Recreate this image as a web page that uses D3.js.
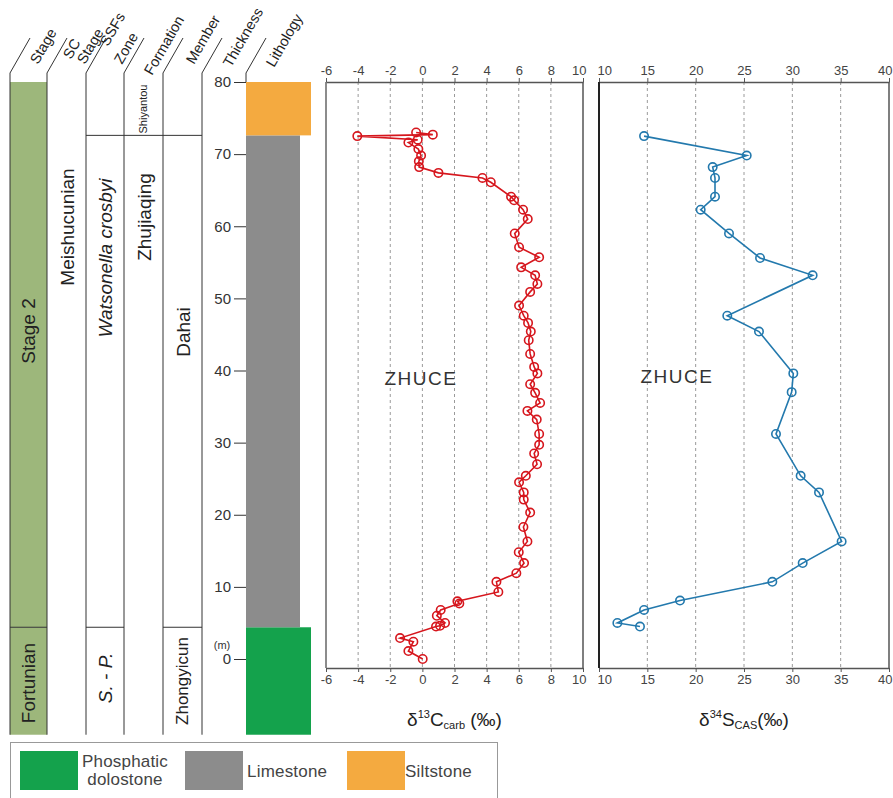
<!DOCTYPE html>
<html>
<head>
<meta charset="utf-8">
<title>Zhuce section</title>
<script src="https://d3js.org/d3.v7.min.js"></script>
<style>
  body { margin: 0; background: #fff; }
  text { font-family: "Liberation Sans", Arial, sans-serif; }
</style>
</head>
<body>
<div id="chart"></div>
<script>
// ---- data ----
var carbDepth = [73.0, 72.7, 72.5, 72.0, 71.6, 70.7, 69.8, 69.0, 68.2, 67.4, 66.7, 66.1, 64.1, 63.6, 62.3, 61.0, 59.0, 57.1,
  55.7, 54.3, 53.2, 52.0, 50.9, 49.0, 47.6, 46.6, 45.4, 44.2, 42.3, 40.5, 39.6, 38.1, 36.9, 35.5, 34.4, 33.2, 31.2, 29.7, 28.5,
  27.0, 25.4, 24.5, 23.1, 22.1, 20.3, 18.3, 16.3, 14.8, 13.3, 11.9, 10.7, 9.3, 8.0, 7.7, 6.8, 6.0, 5.0, 4.6, 4.5, 2.9, 2.4, 1.1, 0.0];
var carbValue = [-0.39, 0.65, -4.05, -0.29, -0.87, -0.25, -0.08, -0.22, -0.2, 1.0, 3.74, 4.26, 5.52, 5.71, 6.27, 6.56, 5.75, 6.02,
  7.27, 6.15, 7.02, 7.16, 6.71, 6.02, 6.31, 6.58, 6.75, 6.62, 6.71, 6.96, 7.16, 6.71, 7.02, 7.33, 6.54, 7.12, 7.27, 7.27, 6.96,
  7.14, 6.44, 6.02, 6.31, 6.31, 6.71, 6.29, 6.54, 6.0, 6.33, 5.85, 4.61, 4.73, 2.18, 2.3, 1.14, 0.9, 1.41, 1.1, 0.85, -1.39, -0.56, -0.87, 0.02];

var sulfDepth = [72.5, 69.8, 68.2, 66.7, 64.1, 62.3, 59.0, 55.6, 53.2, 47.6, 45.4, 39.6, 37.0, 31.2, 25.4, 23.1, 16.3, 13.3, 10.7, 8.1, 6.8, 5.0, 4.5];
var sulfValue = [14.66, 25.28, 21.76, 22.0, 22.0, 20.52, 23.45, 26.66, 32.1, 23.27, 26.55, 30.1, 29.93, 28.31, 30.86, 32.76, 35.1, 31.07, 27.93, 18.38, 14.66, 11.9, 14.24];

var carbTicks = [-6, -4, -2, 0, 2, 4, 6, 8, 10];
var sulfTicks = [10, 15, 20, 25, 30, 35, 40];
var depthTicks = [0, 10, 20, 30, 40, 50, 60, 70, 80];

var headerNames = [["Stage"], ["SC", "Stage"], ["SSFs", "Zone"], ["Formation"], ["Member"], ["Thickness"], ["Lithology"]];

var lithNames = ["Phosphatic dolostone", "Limestone", "Siltstone"];
var lithBase = [-10.5, 4.4, 72.6];
var lithTop = [4.4, 72.6, 80];

var stageNames = ["Fortunian", "Stage 2"];
var stageBase = [-10.5, 4.4];
var stageTop = [4.4, 80];

// ---- layout ----
var W = 893, H = 798;
var svg = d3.select("#chart").append("svg").attr("width", W).attr("height", H);

var y = d3.scaleLinear().domain([0, 80]).range([659, 82]);
var plotBottom = 668, plotTop = y(80);
var colX = [10, 47, 86, 124, 163, 202, 246];
var headTop = 38, headBase = 73;

var lithColor = {"Phosphatic dolostone": "#14a24c", "Limestone": "#8c8c8c", "Siltstone": "#f4aa40"};
var lithWidth = {"Phosphatic dolostone": 65, "Limestone": 54, "Siltstone": 65};
var stageFill = "#9db77b";

// stage column
svg.selectAll("rect.stage").data(stageNames).enter().append("rect")
  .attr("x", colX[0]).attr("width", colX[1] - colX[0])
  .attr("y", function(d, i) { return y(stageTop[i]); })
  .attr("height", function(d, i) { return y(stageBase[i]) - y(stageTop[i]); })
  .attr("fill", stageFill);

// lithology
svg.selectAll("rect.lith").data(lithNames).enter().append("rect")
  .attr("x", colX[6])
  .attr("width", function(d) { return lithWidth[d]; })
  .attr("y", function(d, i) { return y(lithTop[i]); })
  .attr("height", function(d, i) { return y(lithBase[i]) - y(lithTop[i]); })
  .attr("fill", function(d) { return lithColor[d]; });

// column lines + slanted header lines
var g = svg.append("g").attr("stroke", "#333").attr("stroke-width", 1).attr("fill", "none");
colX.forEach(function(x, i) {
  g.append("line").attr("x1", x).attr("x2", x + 20).attr("y1", headBase).attr("y2", headTop);
  g.append("line").attr("x1", x).attr("x2", x).attr("y1", headBase)
    .attr("y2", i < 6 ? y(-10.5) : plotTop);
});
// unit boundaries
function hline(x1, x2, d) {
  g.append("line").attr("x1", x1).attr("x2", x2).attr("y1", y(d)).attr("y2", y(d));
}
hline(colX[0], colX[1], 4.4);
hline(colX[2], colX[3], 4.4);
hline(colX[4], colX[5], 4.4);
hline(colX[2], colX[5], 72.6);

// header labels
var headPos = [
  [[38, 65]], [[71, 60], [85, 65]], [[108, 47], [122, 65]],
  [[152, 76]], [[194, 65]], [[231, 68]], [[274, 68]]
];
headerNames.forEach(function(lines, i) {
  lines.forEach(function(t, j) {
    var p = headPos[i][j];
    svg.append("text").attr("transform", "translate(" + p[0] + "," + p[1] + ") rotate(-60)")
      .attr("font-size", 14.5).attr("fill", "#222").text(t);
  });
});

// rotated unit names
function vtext(t, x, cy, size, italic) {
  svg.append("text").attr("transform", "translate(" + x + "," + cy + ") rotate(-90)")
    .attr("text-anchor", "middle").attr("dy", "0.35em")
    .attr("font-size", size).attr("fill", "#222")
    .attr("font-style", italic ? "italic" : "normal").text(t);
}
vtext("Stage 2", 28, 331, 19);
vtext("Fortunian", 28, 683, 19);
vtext("Meishucunian", 67, 227, 19);
vtext("Watsonella crosbyi", 105, 258, 19, true);
vtext("S. - P.", 105, 678, 19, true);
vtext("Zhujiaqing", 144, 217, 19);
vtext("Shiyantou", 143, 109, 11);
vtext("Dahai", 183, 332, 19);
vtext("Zhongyicun", 182, 681, 17);

// thickness scale
var ta = svg.append("g").attr("transform", "translate(" + colX[6] + ",0)")
  .call(d3.axisLeft(y).tickValues(depthTicks).tickSize(12).tickPadding(3));
ta.select(".domain").remove();
ta.selectAll("line").attr("stroke", "#333");
ta.selectAll("text").attr("font-size", 15).attr("fill", "#333").attr("font-family", "Liberation Sans, Arial, sans-serif");
svg.append("text").attr("x", 222).attr("y", 649).attr("text-anchor", "middle")
  .attr("font-size", 11).attr("fill", "#333").text("(m)");

// ---- geochemistry panels ----
function panel(x, ticks, depth, value, color, leftStroke, leftWidth, title, sup, sub, shiftFirst) {
  var p = svg.append("g");
  ticks.slice(1, -1).forEach(function(t) {
    p.append("line").attr("x1", x(t)).attr("x2", x(t)).attr("y1", plotTop).attr("y2", plotBottom)
      .attr("stroke", "#9a9a9a").attr("stroke-width", 1).attr("stroke-dasharray", "3,3");
  });
  var fmt = function(d) { return String(d); };
  var top = p.append("g").attr("transform", "translate(0," + plotTop + ")")
    .call(d3.axisTop(x).tickValues(ticks).tickFormat(fmt).tickSize(4).tickSizeOuter(0));
  var bot = p.append("g").attr("transform", "translate(0," + plotBottom + ")")
    .call(d3.axisBottom(x).tickValues(ticks).tickFormat(fmt).tickSize(4).tickSizeOuter(0));
  var n = ticks.length;
  [top, bot].forEach(function(a) {
    a.select(".domain").attr("stroke", "#555").attr("stroke-width", 1.5);
    a.selectAll("line").attr("stroke", "#555");
    a.selectAll("text").attr("font-size", 13).attr("fill", "#444")
      .attr("font-family", "Liberation Sans, Arial, sans-serif")
      .attr("text-anchor", function(d, i) {
        if (i === n - 1) return "end";
        if (i === 0 && shiftFirst) return "start";
        return "middle";
      })
      .attr("dx", function(d, i) {
        if (i === n - 1) return 3;
        if (i === 0 && shiftFirst) return -2;
        return 0;
      });
  });
  var r = x.range();
  p.append("line").attr("x1", r[0]).attr("x2", r[0]).attr("y1", plotTop).attr("y2", plotBottom)
    .attr("stroke", leftStroke).attr("stroke-width", leftWidth);
  p.append("line").attr("x1", r[1]).attr("x2", r[1]).attr("y1", plotTop).attr("y2", plotBottom)
    .attr("stroke", "#555").attr("stroke-width", 1.5);

  var pts = depth.map(function(d, i) { return [value[i], d]; });
  p.append("path").datum(pts)
    .attr("d", d3.line().x(function(d) { return x(d[0]); }).y(function(d) { return y(d[1]); }))
    .attr("fill", "none").attr("stroke", color).attr("stroke-width", 1.6);
  p.selectAll("circle").data(pts).enter().append("circle")
    .attr("cx", function(d) { return x(d[0]); }).attr("cy", function(d) { return y(d[1]); })
    .attr("r", 4.2).attr("fill", "none").attr("stroke", color).attr("stroke-width", 1.6);

  var t = p.append("text").attr("x", (r[0] + r[1]) / 2).attr("y", 726)
    .attr("text-anchor", "middle").attr("font-size", 19).attr("fill", "#222");
  t.append("tspan").text("δ");
  t.append("tspan").attr("font-size", 11).attr("dy", -8).text(sup);
  t.append("tspan").attr("dy", 8).text(sub[0]);
  t.append("tspan").attr("font-size", 11).attr("dy", 3).text(sub[1]);
  t.append("tspan").attr("dy", -3).text(title);
  return p;
}

var xC = d3.scaleLinear().domain([-6, 10]).range([326, 583]);
var xS = d3.scaleLinear().domain([10, 40]).range([599, 889]);
panel(xC, carbTicks, carbDepth, carbValue, "#d6161d", "#666", 1.5, " (‰)", "13", ["C", "carb"], false);
panel(xS, sulfTicks, sulfDepth, sulfValue, "#2379ad", "#222", 2, "(‰)", "34", ["S", "CAS"], true);

svg.append("text").attr("x", 421).attr("y", 385).attr("text-anchor", "middle")
  .attr("font-size", 19).attr("letter-spacing", 1.5).attr("fill", "#333").text("ZHUCE");
svg.append("text").attr("x", 677).attr("y", 383).attr("text-anchor", "middle")
  .attr("font-size", 19).attr("letter-spacing", 1.5).attr("fill", "#333").text("ZHUCE");

// ---- legend ----
var lg = svg.append("g");
lg.append("rect").attr("x", 10.5).attr("y", 742.5).attr("width", 487).attr("height", 70)
  .attr("fill", "#fff").attr("stroke", "#999");
var swX = [20, 185, 347];
var labX = [125, 247, 405];
lithNames.forEach(function(n, i) {
  lg.append("rect").attr("x", swX[i]).attr("y", 751).attr("width", 58).attr("height", 39)
    .attr("fill", lithColor[n]);
  var words = n === "Phosphatic dolostone" ? ["Phosphatic", "dolostone"] : [n];
  words.forEach(function(w, j) {
    lg.append("text").attr("x", labX[i])
      .attr("y", words.length > 1 ? 767 + j * 18 : 777)
      .attr("text-anchor", words.length > 1 ? "middle" : "start")
      .attr("font-size", 17).attr("letter-spacing", 0.2).attr("fill", "#444").text(w);
  });
});
</script>
</body>
</html>
